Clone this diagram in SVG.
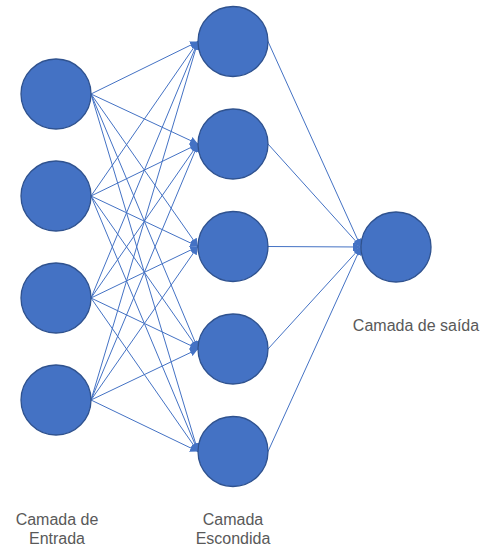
<svg xmlns="http://www.w3.org/2000/svg" width="481" height="551" viewBox="0 0 481 551">
  <style>
    .node { fill: #4472C4; stroke: #2F528F; stroke-width: 1.3; }
    .edge { stroke: #4472C4; stroke-width: 1; fill: none; marker-end: url(#arrow); }
    .label { font-family: "Liberation Sans", Arial, sans-serif; font-size: 16px; fill: #595959; }
  </style>
  <defs>
    <marker id="arrow" viewBox="0 0 10 10" refX="10" refY="5" markerWidth="8" markerHeight="8" markerUnits="userSpaceOnUse" orient="auto">
      <path d="M0,0 L10,5 L0,10 z" fill="#4472C4"/>
    </marker>
  </defs>
  <rect width="481" height="551" fill="#ffffff"/>

  <!-- connectors: input layer to hidden layer, hidden layer to output -->
  <g id="connectors">
    <line class="edge" x1="91" y1="94" x2="198" y2="41.5"/>
    <line class="edge" x1="91" y1="94" x2="198" y2="144"/>
    <line class="edge" x1="91" y1="94" x2="198" y2="246.5"/>
    <line class="edge" x1="91" y1="94" x2="198" y2="349"/>
    <line class="edge" x1="91" y1="94" x2="198" y2="451.5"/>

    <line class="edge" x1="91" y1="196" x2="198" y2="41.5"/>
    <line class="edge" x1="91" y1="196" x2="198" y2="144"/>
    <line class="edge" x1="91" y1="196" x2="198" y2="246.5"/>
    <line class="edge" x1="91" y1="196" x2="198" y2="349"/>
    <line class="edge" x1="91" y1="196" x2="198" y2="451.5"/>

    <line class="edge" x1="91" y1="298" x2="198" y2="41.5"/>
    <line class="edge" x1="91" y1="298" x2="198" y2="144"/>
    <line class="edge" x1="91" y1="298" x2="198" y2="246.5"/>
    <line class="edge" x1="91" y1="298" x2="198" y2="349"/>
    <line class="edge" x1="91" y1="298" x2="198" y2="451.5"/>

    <line class="edge" x1="91" y1="400" x2="198" y2="41.5"/>
    <line class="edge" x1="91" y1="400" x2="198" y2="144"/>
    <line class="edge" x1="91" y1="400" x2="198" y2="246.5"/>
    <line class="edge" x1="91" y1="400" x2="198" y2="349"/>
    <line class="edge" x1="91" y1="400" x2="198" y2="451.5"/>

    <line class="edge" x1="268" y1="41.5" x2="361" y2="247"/>
    <line class="edge" x1="268" y1="144" x2="361" y2="247"/>
    <line class="edge" x1="268" y1="246.5" x2="361" y2="247"/>
    <line class="edge" x1="268" y1="349" x2="361" y2="247"/>
    <line class="edge" x1="268" y1="451.5" x2="361" y2="247"/>
  </g>

  <!-- input layer -->
  <g id="in1"><circle class="node" cx="56" cy="94" r="35"/></g>
  <g id="in2"><circle class="node" cx="56" cy="196" r="35"/></g>
  <g id="in3"><circle class="node" cx="56" cy="298" r="35"/></g>
  <g id="in4"><circle class="node" cx="56" cy="400" r="35"/></g>

  <!-- hidden layer -->
  <g id="h1"><circle class="node" cx="233" cy="41.5" r="35"/></g>
  <g id="h2"><circle class="node" cx="233" cy="144" r="35"/></g>
  <g id="h3"><circle class="node" cx="233" cy="246.5" r="35"/></g>
  <g id="h4"><circle class="node" cx="233" cy="349" r="35"/></g>
  <g id="h5"><circle class="node" cx="233" cy="451.5" r="35"/></g>

  <!-- output layer -->
  <g id="out"><circle class="node" cx="396" cy="247" r="35"/></g>

  <!-- layer captions -->
  <g id="captions">
    <text class="label" x="416" y="331" text-anchor="middle">Camada de saída</text>
    <text class="label" x="57" y="525" text-anchor="middle">Camada de</text>
    <text class="label" x="57" y="544" text-anchor="middle">Entrada</text>
    <text class="label" x="233" y="525" text-anchor="middle">Camada</text>
    <text class="label" x="233" y="544" text-anchor="middle">Escondida</text>
  </g>
</svg>
